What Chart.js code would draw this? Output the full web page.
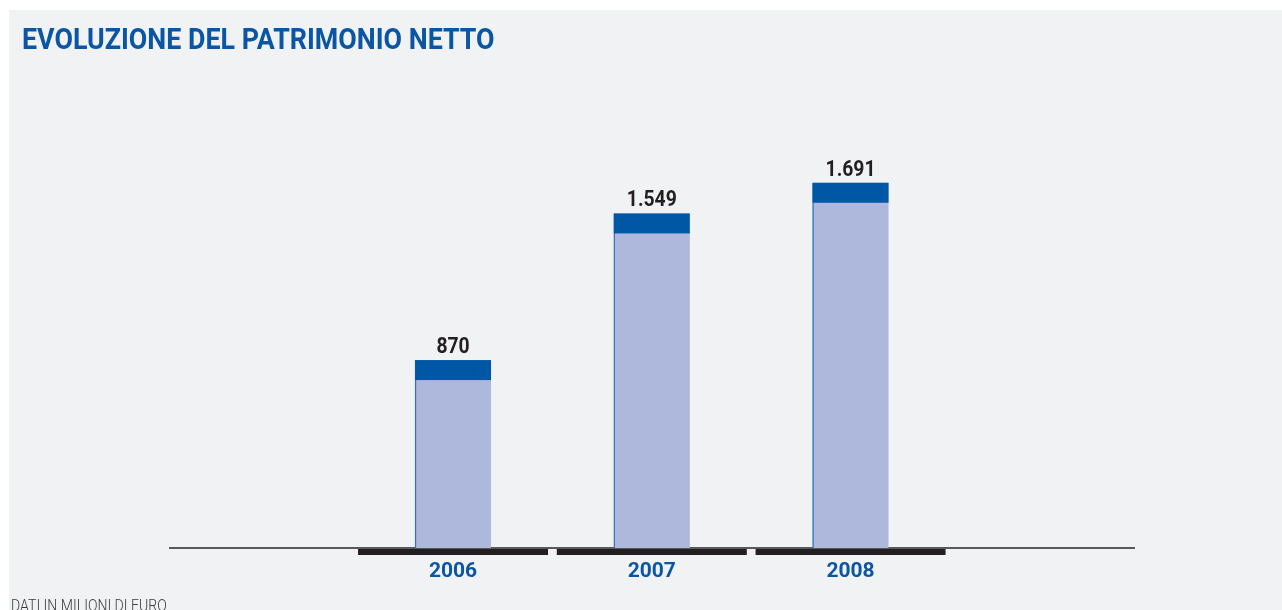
<!DOCTYPE html>
<html lang="it">
<head>
<meta charset="utf-8">
<title>Evoluzione del patrimonio netto</title>
<script src="https://cdn.jsdelivr.net/npm/chart.js@4.4.1/dist/chart.umd.min.js"></script>
<style>
  html, body { margin: 0; padding: 0; background: #ffffff; overflow: hidden; }
  #wrap { position: relative; width: 1282px; height: 610px; overflow: hidden; }
  #panel { position: absolute; left: 9px; top: 10px; right: 0; bottom: 0; background: #f1f2f4; }
  #chart { position: absolute; left: 0; top: 0; }
  #title {
    position: absolute; left: 22px; top: 22px; margin: 0;
    font-family: Roboto, sans-serif; font-weight: bold;
    font-size: 30px; line-height: 34px; color: #0a56a4; white-space: nowrap;
    transform-origin: 0 0; transform: scaleX(0.894);
  }
  #note {
    position: absolute; left: 11px; top: 597px; margin: 0;
    font-family: Roboto, sans-serif; font-weight: 300;
    font-size: 16px; line-height: 18px; color: #3a3a3a; white-space: nowrap;
    transform-origin: 0 0; transform: scaleX(0.88);
  }
</style>
</head>
<body>
<div id="wrap">
  <div id="panel"></div>
  <canvas id="chart" width="1282" height="610"></canvas>
  <h1 id="title">EVOLUZIONE DEL PATRIMONIO NETTO</h1>
  <p id="note">DATI IN MILIONI DI EURO</p>
</div>
<script>
// Anni e patrimonio netto (milioni di euro)
const years = ['2006', '2007', '2008'];
const netWorth = [870, 1549, 1691];

const LIGHT = '#adb8dc';
const DARK = '#0057a6';
const EDGE = '#3a72b8';

// Formattazione italiana con punto come separatore delle migliaia
function fmt(v) {
  return String(v).replace(/\B(?=(\d{3})+(?!\d))/g, '.');
}

// Testo in stile condensato: compressione orizzontale attorno al centro
function condensedText(ctx, text, x, y, squeeze) {
  ctx.save();
  ctx.translate(x, y);
  ctx.scale(squeeze, 1);
  ctx.fillText(text, 0, 0);
  ctx.restore();
}

// Fascia scura in cima a ogni barra ed etichetta del valore
const capsAndLabels = {
  id: 'capsAndLabels',
  afterDatasetsDraw(chart) {
    const ctx = chart.ctx;
    const meta = chart.getDatasetMeta(0);
    ctx.save();
    meta.data.forEach((bar, i) => {
      const w = bar.width;
      const left = bar.x - w / 2;
      ctx.fillStyle = DARK;
      ctx.fillRect(left, bar.y, w, 20);
      ctx.fillStyle = '#231f20';
      ctx.font = 'bold 22px Roboto, sans-serif';
      ctx.textAlign = 'center';
      ctx.textBaseline = 'alphabetic';
      condensedText(ctx, fmt(netWorth[i]), bar.x, bar.y - 7, 0.88);
    });
    ctx.restore();
  }
};

// Segmenti neri sotto l'asse per ogni anno
const yearBands = {
  id: 'yearBands',
  afterDraw(chart) {
    const ctx = chart.ctx;
    const xs = chart.scales.x;
    const bottom = chart.chartArea.bottom;
    ctx.save();
    ctx.fillStyle = '#231f20';
    years.forEach((_, i) => {
      const cx = xs.getPixelForValue(i);
      ctx.fillRect(cx - 95, bottom + 1, 190, 6);
    });
    ctx.restore();
  }
};

new Chart(document.getElementById('chart'), {
  type: 'bar',
  data: {
    datasets: [{
      data: netWorth.map((v, i) => ({ x: i, y: v })),
      backgroundColor: LIGHT,
      borderColor: EDGE,
      borderWidth: { left: 1.5, top: 0, right: 0, bottom: 0 },
      borderSkipped: false,
      barThickness: 76
    }]
  },
  options: {
    responsive: false,
    animation: false,
    events: [],
    layout: { padding: { left: 170, right: 148, top: 116, bottom: 0 } },
    plugins: { legend: { display: false }, tooltip: { enabled: false }, title: { display: false } },
    scales: {
      x: {
        type: 'linear',
        offset: false,
        min: -1.424,
        max: 3.426,
        afterBuildTicks(scale) {
          scale.ticks = years.map((_, i) => ({ value: i }));
        },
        afterFit(scale) { scale.height = 62; },
        grid: { display: false, offset: false },
        border: { display: true, color: '#58595b', width: 2 },
        ticks: {
          autoSkip: false,
          maxRotation: 0,
          padding: 3,
          color: '#0a56a4',
          font: { family: 'Roboto, sans-serif', size: 21, weight: 'bold' },
          callback: (v) => years[v] ?? ''
        }
      },
      y: {
        display: false,
        min: 0,
        max: 2000
      }
    }
  },
  plugins: [capsAndLabels, yearBands]
});
</script>
</body>
</html>
